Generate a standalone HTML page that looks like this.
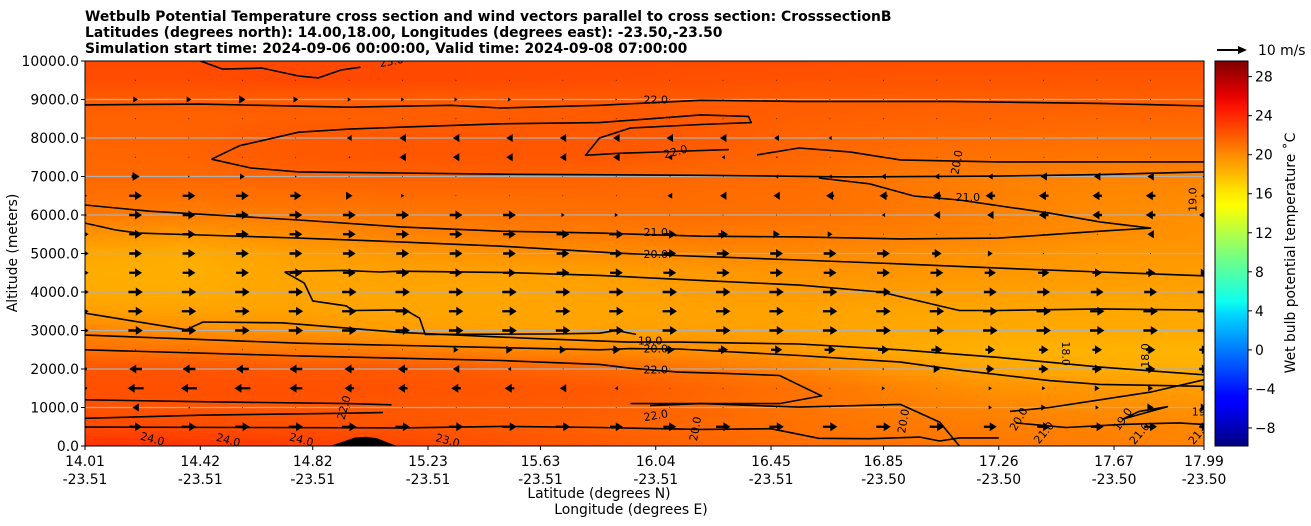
<!DOCTYPE html>
<html><head><meta charset="utf-8">
<style>
html,body{margin:0;padding:0;background:#fff;width:1311px;height:526px;overflow:hidden;font-family:"Liberation Sans","DejaVu Sans",sans-serif;}
#wrap{position:relative;width:1311px;height:526px;}
#field{position:absolute;left:85px;top:61px;}
#ov{position:absolute;left:0;top:0;}
text{font-family:"DejaVu Sans","Liberation Sans",sans-serif;}
</style></head>
<body>
<div id="wrap">
<canvas id="field" width="1119" height="385"></canvas>
<svg id="ov" width="1311" height="526">
 <defs>
  <linearGradient id="jet" x1="0" y1="1" x2="0" y2="0">
   <stop offset="0" stop-color="#00007f"/><stop offset="0.11" stop-color="#0000ff"/>
   <stop offset="0.125" stop-color="#0000ff"/><stop offset="0.34" stop-color="#00d4ff"/>
   <stop offset="0.375" stop-color="#0dffef"/><stop offset="0.5" stop-color="#7dff7a"/>
   <stop offset="0.625" stop-color="#ffff00"/><stop offset="0.66" stop-color="#ffe600"/>
   <stop offset="0.875" stop-color="#ff1800"/><stop offset="0.91" stop-color="#e60000"/>
   <stop offset="1" stop-color="#7f0000"/>
  </linearGradient>
  <clipPath id="pc"><rect x="85" y="61" width="1119" height="385"/></clipPath>
 </defs>
 <g id="grid"></g>
 <g id="cont" clip-path="url(#pc)"></g>
 <g id="arr" clip-path="url(#pc)"></g>
 <g id="terr" clip-path="url(#pc)"></g>
 <rect x="85" y="61" width="1119" height="385" fill="none" stroke="#000" stroke-width="1"/>
 <g id="axes"></g>
 <g font-weight="bold" font-size="13.9">
  <text x="85" y="21">Wetbulb Potential Temperature cross section and wind vectors parallel to cross section: CrosssectionB</text>
  <text x="85" y="37">Latitudes (degrees north): 14.00,18.00, Longitudes (degrees east): -23.50,-23.50</text>
  <text x="85" y="53">Simulation start time: 2024-09-06 00:00:00, Valid time: 2024-09-08 07:00:00</text>
 </g>
 <text x="17" y="253" font-size="13.9" text-anchor="middle" transform="rotate(-90 17 253)">Altitude (meters)</text>
 <text x="599" y="498" font-size="13.9" text-anchor="middle">Latitude (degrees N)</text>
 <text x="631" y="514" font-size="13.9" text-anchor="middle">Longitude (degrees E)</text>
 <g>
  <line x1="1217" y1="50" x2="1240" y2="50" stroke="#000" stroke-width="2"/>
  <polygon points="1247,50 1238,46 1238,54" fill="#000"/>
  <text x="1258" y="55" font-size="13.9">10 m/s</text>
 </g>
 <rect x="1215" y="61" width="33" height="385" fill="url(#jet)" stroke="#000" stroke-width="1"/>
 <g id="cbt"></g>
 <text x="1295" y="253" font-size="13.9" text-anchor="middle" transform="rotate(-90 1295 253)">Wet bulb potential temperature ˚C</text>
</svg>
</div>
<script>
// ---------- data ----------
const xTickLats = [14.01,14.42,14.82,15.23,15.63,16.04,16.45,16.85,17.26,17.67,17.99];
const xTickLons = ["-23.51","-23.51","-23.51","-23.51","-23.51","-23.51","-23.51","-23.50","-23.50","-23.50","-23.50"];
const yTicks = [0,1000,2000,3000,4000,5000,6000,7000,8000,9000,10000];
const cbTicks = [-8,-4,0,4,8,12,16,20,24,28];
const fieldLats = [14.01,14.37,14.73,15.09,15.46,15.82,16.18,16.54,16.91,17.27,17.63,17.99];
const fieldAlts = [0,500,1000,1500,2000,2500,3000,3500,4000,4500,5000,5500,6000,6500,7000,7500,8000,8500,9000,9500,10000];
const T0=[22.8,22.6,22.3,22.0,21.6,21.2,20.8,20.4,20.2,20.0,19.8,19.6];
const T500=[21.8,21.7,21.6,21.4,21.2,20.9,20.6,20.3,20.0,19.8,19.6,19.4];
const T1000=[21.5,21.4,21.4,21.3,21.2,21.1,20.7,20.2,19.8,19.5,19.2,19.0];
const T1500=[21.6,21.6,21.6,21.5,21.4,21.3,20.8,20.3,19.6,19.0,18.8,18.6];
const T2000=[21.4,21.4,21.3,21.3,21.0,20.6,20.2,19.6,18.8,18.2,18.0,17.9];
const T2500=[20.3,20.1,20.0,19.8,19.5,19.3,19.1,18.7,18.1,17.8,17.8,17.7];
const T3000=[19.5,19.2,19.0,18.6,18.4,18.4,18.5,18.4,18.2,18.1,18.1,18.1];
const T3500=[18.5,18.4,18.4,18.3,18.3,18.3,18.4,18.4,18.3,18.3,18.2,18.2];
const T4000=[18.1,18.0,18.3,18.3,18.3,18.4,18.6,18.7,18.6,18.5,18.4,18.4];
const T4500=[18.0,17.9,18.3,18.4,18.4,18.5,18.7,18.9,18.9,18.8,18.7,18.6];
const T5000=[18.2,18.0,18.5,18.8,19.0,19.2,19.4,19.4,19.2,19.0,18.8,18.8];
const T5500=[19.0,18.8,19.2,19.6,19.8,19.9,20.0,19.9,19.8,19.5,19.2,19.0];
const T6000=[20.0,19.8,19.9,20.0,20.2,20.3,20.4,20.3,20.0,19.6,19.3,19.1];
const T6500=[20.4,20.3,20.4,20.5,20.5,20.6,20.5,20.4,20.1,19.7,19.4,19.3];
const T7000=[20.6,20.6,20.8,20.9,20.9,20.8,20.6,20.5,20.0,19.7,19.6,19.6];
const T7500=[20.7,20.8,21.2,21.3,21.3,21.3,21.0,20.7,20.4,20.2,20.1,20.1];
const T8000=[20.8,20.9,21.2,21.3,21.3,21.3,21.2,20.8,20.6,20.5,20.4,20.4];
const T8500=[20.9,20.9,21.0,21.0,21.1,21.2,21.2,21.0,20.9,20.8,20.7,20.7];
const T9000=[21.1,21.1,21.1,21.1,21.1,21.2,21.2,21.1,21.1,21.0,21.0,21.0];
const T9500=[21.7,21.7,21.9,21.9,21.8,21.7,21.6,21.5,21.4,21.4,21.3,21.3];
const T10000=[21.8,21.8,21.9,21.9,21.8,21.8,21.7,21.7,21.6,21.6,21.6,21.6];
const tempRows=[T0,T500,T1000,T1500,T2000,T2500,T3000,T3500,T4000,T4500,T5000,T5500,T6000,T6500,T7000,T7500,T8000,T8500,T9000,T9500,T10000];

const windLats = Array.from({length:22},(_,i)=>14.0+i*(3.99/21));
const windAlts = [500,1000,1500,2000,2500,3000,3500,4000,4500,5000,5500,6000,6500,7000,7500,8000,8500,9000,9500];
const U500=[3,4,4.5,4.5,4.5,4.5,4.5,4.5,4.5,4.5,4,4,4.5,4.5,4.5,4.5,4.5,4,4,4,4,3];
const U1000=[1,-2,-0.5,0.3,0.3,-0.3,0.3,-0.3,0.3,0.3,0.3,0.3,0.3,0.3,0.3,0.3,0.3,1,1.5,1,2,2];
const U1500=[-3,-5,-5,-5,-4,-3,-3,-3,-3,-2,-1,-0.3,0.3,0.3,0.3,1,0.3,1,1,1.5,1.5,1.5];
const U2000=[-3,-4,-4,-4,-4,-3,-3,-2,-1,-0.3,-0.3,0.3,0.3,0.3,0.5,0.5,2,2.5,3,3,3,3];
const U2500=[1,0.3,0.3,0.3,0.3,0.3,0.3,1.5,2,2,2.5,3,3,3.5,3.5,3.5,3.5,3,3,3,3,3];
const U3000=[4,4.5,4.5,4.5,4.5,4.5,4.5,4.5,4.5,4.5,4.5,4.5,4.5,4.5,4.5,4.5,4.5,4.5,4.5,4.5,4.5,4];
const U3500=[4,4.5,4.5,4.5,4.5,4.5,4.5,4.5,4.5,4.5,4.5,4.5,4.5,4.5,4.5,4.5,4.5,4.5,4.5,4.5,4.5,4];
const U4000=[4,4.5,4.5,4.5,4.5,4.5,4.5,4.5,4.5,4.5,4.5,4.5,4.5,4.5,4.5,4.5,4,4,4,4,4,4];
const U4500=[4,4,4,4,4,4,4,4,4,4,4,4,4,4,4,4,4,3.5,3.5,3,3,2];
const U5000=[4,4,4,4,4,4,4,4,4,4,4,4,4,4,4,4,3,1.5,0.5,0.3,0.3,0.3];
const U5500=[4,4,4,4,4,4,4,4,4,4,4.5,4,3,2,1.5,0.3,0.3,0.3,-0.3,-0.3,-2,-0.3];
const U6000=[3,4,4,4,4,4,4,4,4,1,1,0.3,0.3,0.3,-0.3,-1,-2,-2,-3,-3,-3,-3];
const U6500=[3,4,4,4,3.5,2,1,0.3,0.3,0.3,-0.3,-1.5,-2,-2,-2.5,-2.5,-2.5,-3,-3,-3,-3,-2];
const U7000=[1,2.5,0.5,1.5,0.5,0.3,0.3,0.3,0.3,0.3,0.3,-0.3,-0.3,-1,-1,-1.5,-1.5,-1.5,-2,-2,-2,-1];
const U7500=[0.3,0.3,0.3,0.3,0.3,-0.5,-2,-2,-2,-2,-2,-1.5,-1,-0.5,-0.3,-0.3,-0.3,-0.3,-0.3,-0.3,-0.3,-0.3];
const U8000=[0.3,0.3,0.3,0.3,0.3,-1.5,-2,-2,-2,-2,-2,-2,-2,-1.5,-1,-0.3,-0.3,-0.3,-0.3,-0.3,-0.3,-0.3];
const U8500=[0.3,0.3,0.3,0.3,0.3,0.3,0.3,0.3,0.3,0.3,0.3,0.3,0.3,0.3,0.3,0.3,0.3,0.3,0.3,0.3,0.3,0.3];
const U9000=[1,1.5,1.5,2,1.5,1,1,1,1,0.5,0.5,0.3,0.3,0.3,0.3,0.3,0.3,0.3,0.3,0.3,0.3,0.3];
const U9500=[0.3,0.3,0.3,0.3,0.3,0.3,0.3,0.3,0.3,0.3,0.3,0.3,0.3,0.3,0.3,0.3,0.3,0.3,0.3,0.3,0.3,0.3];
const windRows=[U500,U1000,U1500,U2000,U2500,U3000,U3500,U4000,U4500,U5000,U5500,U6000,U6500,U7000,U7500,U8000,U8500,U9000,U9500];

const contourLats = [
 [14.01,14.42,14.95,15.31,15.49,15.84,16.20,16.55,17.09,17.62,17.99],
 [14.42,14.50,14.64,14.77,14.84,14.92,14.99],
 [14.46,14.56,14.77,14.95,15.13,15.49,15.84,16.20,16.37,16.38,16.20,15.95,15.84,15.79,15.90,16.10,16.30],
 [14.46,14.60,14.77,15.13,15.49,16.20,16.73,17.26,17.62,17.99],
 [16.40,16.55,16.73,16.91,17.26,17.62,17.99],
 [14.01,14.24,14.42,14.77,15.13,15.49,15.84,16.20,16.55,16.91,17.26,17.62,17.80,17.62,17.44,17.12,16.96,16.80,16.62],
 [14.01,14.12,14.20,14.42,14.77,15.13,15.49,15.90,16.06,16.55,16.91,17.26,17.62,17.99],
 [14.72,14.77,14.93,15.06,15.13,15.49,15.84,16.20,16.55,16.84,17.12,17.26,17.62,17.99],
 [14.72,14.79,14.82,14.94,14.96,15.08,15.15,15.20,15.22,15.66,15.84,15.90,15.97],
 [14.01,14.37,14.43,14.71,15.13,15.58,15.94,16.12,16.55,16.91,17.26,17.62,17.99],
 [14.01,14.77,15.84,15.95,16.12,16.55,16.91,17.12,17.44,17.62,17.99],
 [14.01,14.77,15.49,15.84,15.95,16.12,16.30,16.48,16.63,16.48,16.12,15.95],
 [14.01,14.42,14.95,15.10],
 [14.01,14.42,14.92,15.07],
 [14.01,14.60,15.13,15.49,15.84,16.20,16.45,16.62,16.80,16.98,17.05,17.12,17.26],
 [16.02,16.20,16.55,16.91,17.05,17.12],
 [17.30,17.44,17.62,17.80,17.99],
 [17.32,17.50,17.70,17.90,17.99],
 [17.70,17.80,17.86,17.76,17.70]
];
const contourAlts = [
 [8860,8880,8800,8850,8780,8850,8980,8950,8950,8900,8830],
 [10000,9790,9815,9610,9560,9765,9840],
 [7450,7800,8150,8230,8280,8370,8400,8600,8560,8400,8350,8260,8000,7550,7600,7650,7700],
 [7450,7220,7120,7090,7060,7030,6990,7010,7050,7120],
 [7560,7740,7640,7430,7380,7380,7380],
 [6260,6100,6020,5870,5690,5580,5530,5450,5430,5380,5400,5580,5660,5820,6050,6390,6490,6810,6960],
 [5790,5610,5530,5480,5400,5300,5190,5010,4960,4830,4730,4620,4520,4420],
 [4520,4540,4560,4520,4540,4510,4430,4300,4180,4000,3520,3520,3560,3530],
 [4520,4230,3770,3640,3520,3530,3530,3320,2900,2910,2930,3000,2900],
 [3450,3020,3220,3200,2950,2800,2700,2700,2650,2500,2300,2050,1850],
 [2880,2670,2500,2530,2520,2350,2180,1970,1700,1600,1550],
 [2500,2340,2220,2120,2020,1920,1880,1830,1300,1100,1100,1100],
 [1200,1150,1100,1070],
 [720,800,850,870],
 [490,480,470,510,480,430,450,200,190,230,130,210,210],
 [1050,1100,1010,1080,620,0],
 [900,1000,1200,1400,1720],
 [600,480,560,600,560],
 [700,900,1020,900,700]
];
const contourLabels=[
 {t:"22.0",lat:16.04,alt:9000,r:0},{t:"23.0",lat:15.10,alt:10000,r:-10},
 {t:"22.0",lat:16.11,alt:7650,r:-15},{t:"20.0",lat:17.11,alt:7370,r:-80},
 {t:"21.0",lat:17.15,alt:6470,r:0},{t:"19.0",lat:17.95,alt:6400,r:-90},
 {t:"21.0",lat:16.04,alt:5560,r:0},{t:"20.0",lat:16.04,alt:4990,r:0},
 {t:"19.0",lat:16.02,alt:2740,r:0},{t:"20.0",lat:16.04,alt:2530,r:0},
 {t:"22.0",lat:16.04,alt:1990,r:0},{t:"18.0",lat:17.78,alt:2350,r:-90},
 {t:"18.0",lat:17.50,alt:2400,r:90},{t:"22.0",lat:16.04,alt:800,r:-10},
 {t:"22.0",lat:14.93,alt:1000,r:-75},{t:"23.0",lat:15.30,alt:150,r:15},
 {t:"24.0",lat:14.25,alt:190,r:15},{t:"24.0",lat:14.52,alt:160,r:15},
 {t:"24.0",lat:14.78,alt:170,r:15},{t:"19.0",lat:17.99,alt:900,r:0},
 {t:"20.0",lat:16.92,alt:650,r:-80},{t:"20.0",lat:17.33,alt:700,r:-60},
 {t:"21.0",lat:17.42,alt:350,r:-50},{t:"19.0",lat:17.70,alt:700,r:-55},
 {t:"21.0",lat:17.76,alt:330,r:-50},{t:"21.0",lat:17.97,alt:330,r:-50},
 {t:"20.0",lat:16.18,alt:450,r:-80}
];
const terrainLats=[14.88,14.93,14.97,15.01,15.05,15.09,15.12];
const terrainAlts=[0,120,220,240,200,80,0];

// ---------- scales ----------
const X0=85,X1=1204,Y0=446,Y1=61,LAT0=14.01,LAT1=17.99,VMIN=-9.85,VMAX=29.6;
const xs=lat=>X0+(lat-LAT0)/(LAT1-LAT0)*(X1-X0);
const ys=alt=>Y0-alt/10000*(Y0-Y1);
const cy=v=>Y0-(v-VMIN)/(VMAX-VMIN)*(Y0-Y1);
function jet(v){const x=(v-VMIN)/(VMAX-VMIN);const c=t=>Math.max(0,Math.min(1,t));
 return [c(1.5-Math.abs(4*x-3)),c(1.5-Math.abs(4*x-2)),c(1.5-Math.abs(4*x-1))].map(t=>Math.round(t*255));}
const NS="http://www.w3.org/2000/svg";
function mk(tag,attrs,parent){const e=document.createElementNS(NS,tag);for(const k in attrs)e.setAttribute(k,attrs[k]);parent.appendChild(e);return e;}

(function(){
 const ctx=document.getElementById('field').getContext('2d');
 function interp(lat,alt){
  let i=0;while(i<fieldLats.length-2&&lat>fieldLats[i+1])i++;
  let j=0;while(j<fieldAlts.length-2&&alt>fieldAlts[j+1])j++;
  const tx=Math.max(0,Math.min(1,(lat-fieldLats[i])/(fieldLats[i+1]-fieldLats[i])));
  const ty=Math.max(0,Math.min(1,(alt-fieldAlts[j])/(fieldAlts[j+1]-fieldAlts[j])));
  const a=tempRows[j][i],b=tempRows[j][i+1],c=tempRows[j+1][i],d=tempRows[j+1][i+1];
  return (a*(1-tx)+b*tx)*(1-ty)+(c*(1-tx)+d*tx)*ty;}
 const S=3;
 for(let px=0;px<1119;px+=S){for(let py=0;py<385;py+=S){
  const lat=LAT0+(px+S/2)/1119*(LAT1-LAT0), alt=(385-py-S/2)/385*10000;
  const [r,g,b]=jet(interp(lat,alt));ctx.fillStyle=`rgb(${r},${g},${b})`;ctx.fillRect(px,py,S,S);}}
})();

const grid=document.getElementById('grid');
yTicks.forEach(t=>{if(t>0&&t<10000){const l=mk('line',{x1:X0,x2:X1,y1:ys(t),y2:ys(t),stroke:'#b0b0b0','stroke-width':1.2},grid);
 
 }});

const cont=document.getElementById('cont');
contourLats.forEach((la,k)=>{const al=contourAlts[k];
 const p=mk('polyline',{points:la.map((v,i)=>xs(v).toFixed(1)+','+ys(al[i]).toFixed(1)).join(' '),fill:'none',stroke:'#000','stroke-width':1.6,'stroke-linejoin':'round'},cont);
 
 });
contourLabels.forEach((c,k)=>{const x=xs(c.lat),y=ys(c.alt);
 const t=mk('text',{x:x,y:y+4,'font-size':11,'text-anchor':'middle',transform:`rotate(${c.r} ${x} ${y})`},cont);
 t.textContent=c.t;
 
 });

const arr=document.getElementById('arr');
windRows.forEach((row,j)=>{row.forEach((u,i)=>{
 const x=xs(windLats[i]),y=ys(windAlts[j]);const L=Math.abs(u)*3.2;if(L<0.1)return;
 const s=Math.sign(u);let hl=7,hw=4.5,sw=1.2;
 if(L<hl){const f=L/hl;hl*=f;hw*=f;sw*=f;}
 const x0=x-s*L/2,x1=x+s*L/2,xh=x1-s*hl;
 const pts=[[x0,y-sw],[xh,y-sw],[xh,y-hw],[x1,y],[xh,y+hw],[xh,y+sw],[x0,y+sw]];
 const p=mk('polygon',{points:pts.map(q=>q[0].toFixed(1)+','+q[1].toFixed(1)).join(' '),fill:'#000'},arr);
 
 });});

(function(){const g=document.getElementById('terr');
 const pts=terrainLats.map((v,i)=>xs(v).toFixed(1)+','+ys(terrainAlts[i]).toFixed(1)).join(' ');
 const p=mk('polygon',{points:pts,fill:'#000'},g);
 
 })();

const axes=document.getElementById('axes');
yTicks.forEach(t=>{const y=ys(t);mk('line',{x1:X0-4,x2:X0,y1:y,y2:y,stroke:'#000'},axes);
 const tx=mk('text',{x:X0-6,y:y+5,'font-size':13.9,'text-anchor':'end'},axes);tx.textContent=t.toFixed(1);
 
 });
xTickLats.forEach((t,i)=>{const x=xs(t);mk('line',{x1:x,x2:x,y1:Y0,y2:Y0+4,stroke:'#000'},axes);
 const a=mk('text',{x:x,y:466,'font-size':13.9,'text-anchor':'middle'},axes);a.textContent=t.toFixed(2);
 
 
 const b=mk('text',{x:x,y:484,'font-size':13.9,'text-anchor':'middle'},axes);b.textContent=xTickLons[i];
 
 });
const cbt=document.getElementById('cbt');
cbTicks.forEach(t=>{const y=cy(t);mk('line',{x1:1248,x2:1252,y1:y,y2:y,stroke:'#000'},cbt);
 const tx=mk('text',{x:1255,y:y+5,'font-size':13.9},cbt);tx.textContent=t<0?'\u2212'+Math.abs(t):String(t);
 
 });
</script>
</body></html>
